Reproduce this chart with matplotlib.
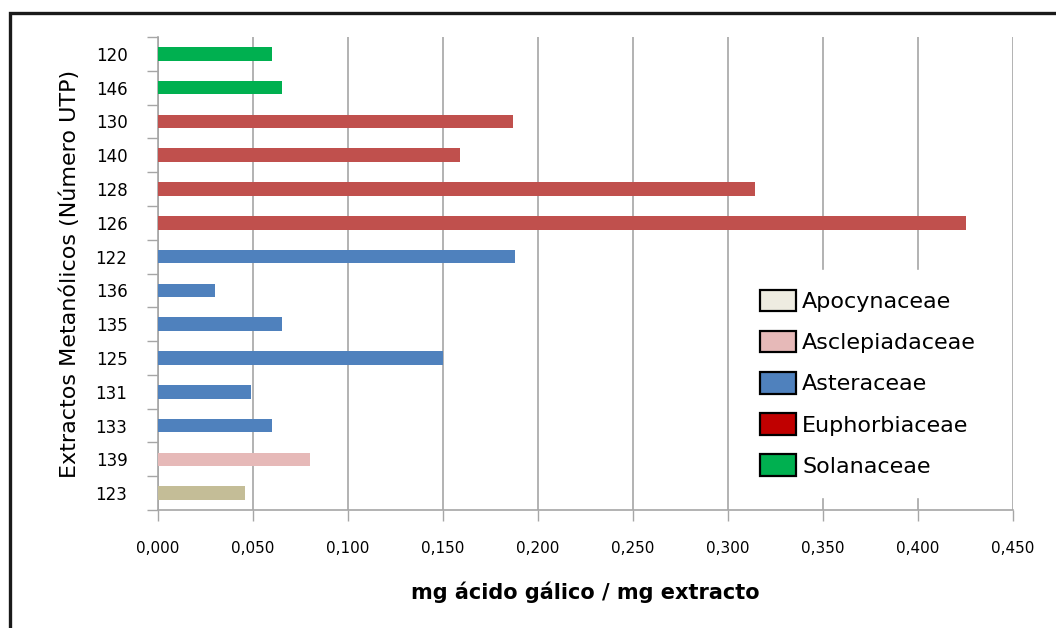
import matplotlib.pyplot as plt
from matplotlib.patches import Patch, Rectangle
from matplotlib.ticker import FixedLocator, FuncFormatter

# ------------------------------------------------------------
# Data
# ------------------------------------------------------------

extractos = ["120", "146", "130", "140", "128", "126", "122",
             "136", "135", "125", "131", "133", "139", "123"]

valores = [0.060, 0.065, 0.187, 0.159, 0.314, 0.425, 0.188,
           0.030, 0.065, 0.150, 0.049, 0.060, 0.080, 0.046]

familias = ["Solanaceae", "Solanaceae",
            "Euphorbiaceae", "Euphorbiaceae", "Euphorbiaceae", "Euphorbiaceae",
            "Asteraceae", "Asteraceae", "Asteraceae", "Asteraceae",
            "Asteraceae", "Asteraceae",
            "Asclepiadaceae", "Apocynaceae"]

leyenda = ["Apocynaceae", "Asclepiadaceae", "Asteraceae",
           "Euphorbiaceae", "Solanaceae"]

# bar fill per family
color_barra = {
    "Apocynaceae": "#C4BD97",
    "Asclepiadaceae": "#E6B9B8",
    "Asteraceae": "#4F81BD",
    "Euphorbiaceae": "#C0504D",
    "Solanaceae": "#00B050",
}

# legend swatch per family
color_leyenda = {
    "Apocynaceae": "#EEECE1",
    "Asclepiadaceae": "#E6B9B8",
    "Asteraceae": "#4F81BD",
    "Euphorbiaceae": "#C00000",
    "Solanaceae": "#00B050",
}

W, H = 1056, 628

fig = plt.figure(figsize=(W / 100, H / 100), dpi=100)
fig.patch.set_facecolor("white")

# outer frame
fig.add_artist(Rectangle(
    (10 / W, -0.05), 1.1, 1 - 13 / H + 0.05,
    transform=fig.transFigure,
    fill=False, edgecolor="#1a1a1a", linewidth=2.4
))

ax = fig.add_axes([158 / W, (H - 510) / H, (1013 - 158) / W, (510 - 37) / H])

y = list(range(len(extractos)))

ax.barh(
    y,
    valores,
    height=0.4,
    color=[color_barra[f] for f in familias],
    zorder=3
)

ax.set_xlim(0, 0.45)
ax.set_ylim(len(extractos) - 0.5, -0.5)

# ------------------------------------------------------------
# Axes styling
# ------------------------------------------------------------

gris = "#A6A6A6"

ax.set_xticks([i * 0.05 for i in range(10)])
ax.xaxis.set_major_formatter(
    FuncFormatter(lambda v, p: f"{v:.3f}".replace(".", ","))
)
ax.tick_params(axis="x", length=8, width=1, color=gris,
               labelsize=11, pad=14)

ax.set_yticks(y)
ax.set_yticklabels(extractos)
ax.yaxis.set_minor_locator(FixedLocator([i - 0.5 for i in range(len(y) + 1)]))
ax.tick_params(axis="y", which="major", length=0, labelsize=12, pad=22)
ax.tick_params(axis="y", which="minor", length=8, width=1, color=gris)

ax.grid(axis="x", color=gris, linewidth=1.2, zorder=0)

for lado in ["top", "right"]:
    ax.spines[lado].set_visible(False)
for lado in ["left", "bottom"]:
    ax.spines[lado].set_color(gris)
    ax.spines[lado].set_linewidth(1.2)

ax.set_xlabel("mg ácido gálico / mg extracto",
              fontsize=15, fontweight="bold", labelpad=19)
ax.set_ylabel("Extractos Metanólicos (Número UTP)",
              fontsize=16, labelpad=11)

# ------------------------------------------------------------
# Legend
# ------------------------------------------------------------

handles = [
    Patch(facecolor=color_leyenda[f], edgecolor="black", linewidth=1.6, label=f)
    for f in leyenda
]

leg = ax.legend(
    handles=handles,
    loc="upper left",
    bbox_to_anchor=(740 / W, 1 - 270 / H),
    bbox_transform=fig.transFigure,
    borderaxespad=0,
    fontsize=16,
    frameon=True,
    fancybox=False,
    edgecolor="white",
    framealpha=1,
    handlelength=1.6,
    handleheight=1.1,
    handletextpad=0.3,
    labelspacing=0.85,
    borderpad=0.9,
)
leg.set_zorder(5)

plt.savefig("out.png", dpi=100)
plt.close()
